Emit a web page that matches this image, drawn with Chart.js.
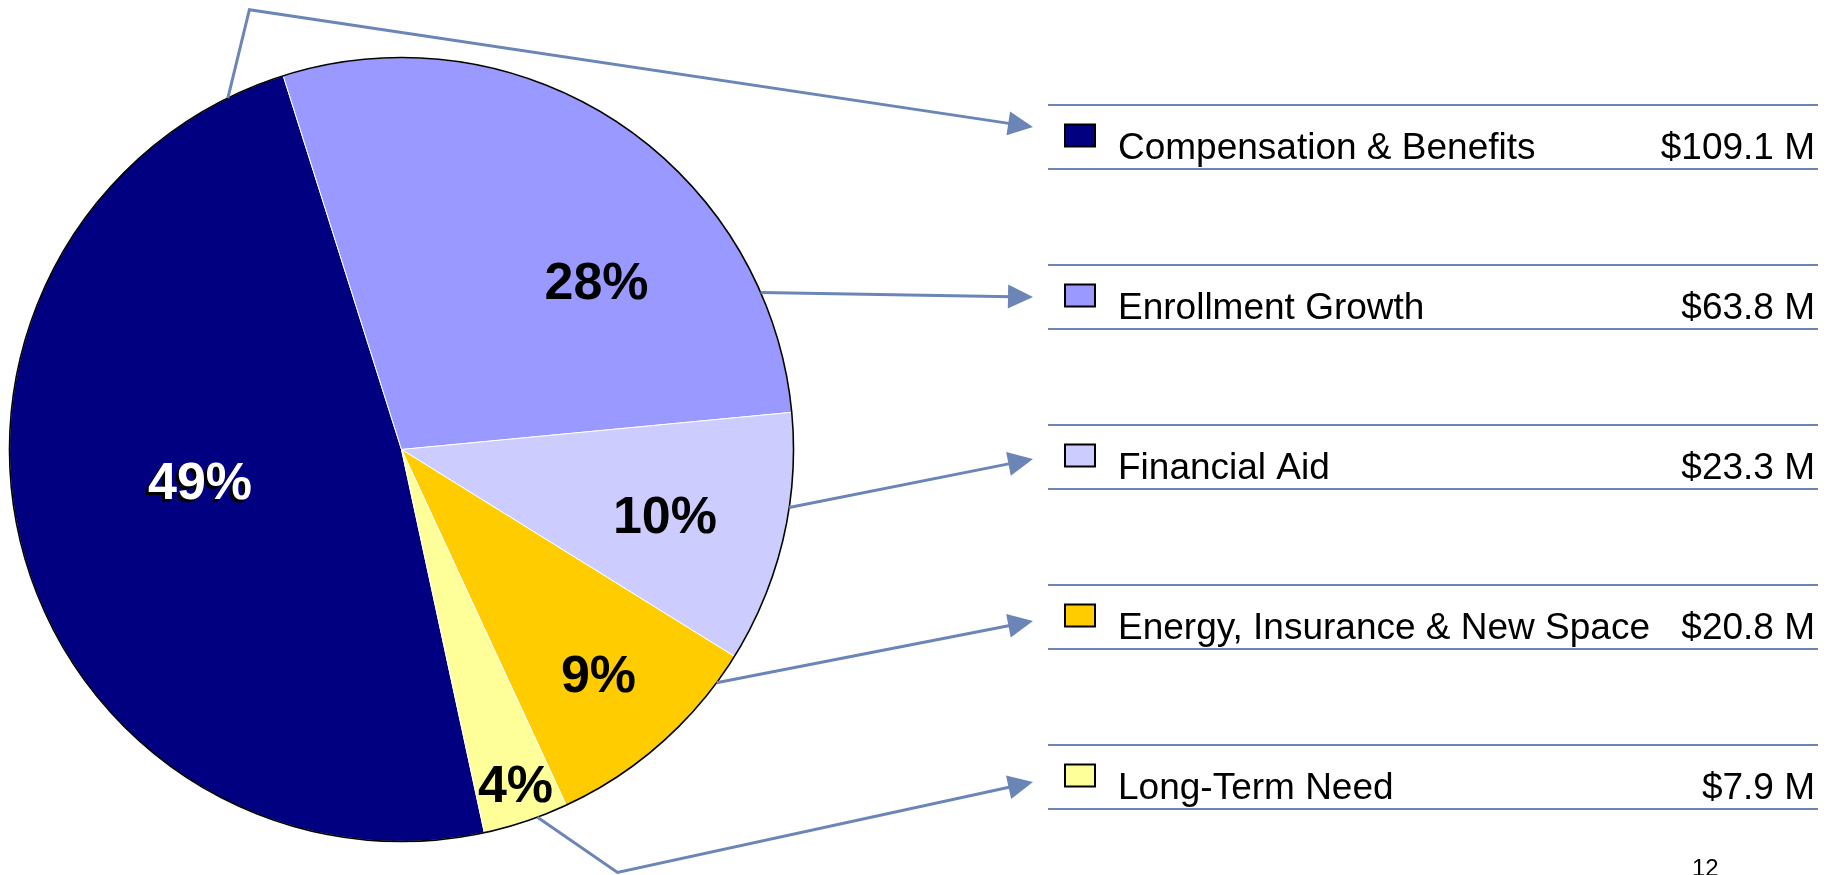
<!DOCTYPE html>
<html>
<head>
<meta charset="utf-8">
<script src="https://cdn.jsdelivr.net/npm/chart.js@4.4.1/dist/chart.umd.min.js"></script>
<style>
  html, body { margin: 0; padding: 0; background: #fff; overflow: hidden; }
  canvas { display: block; }
</style>
</head>
<body>
<canvas id="budget" width="1833" height="875"></canvas>
<script>
// data
const categories = ['Compensation & Benefits', 'Enrollment Growth', 'Financial Aid', 'Energy, Insurance & New Space', 'Long-Term Need'];
const amounts = [109.1, 63.8, 23.3, 20.8, 7.9];   // $ millions
const sliceColors = ['#000080', '#9999FF', '#CCCCFF', '#FFCC00', '#FFFF99'];
const pageNumber = '12';

// where the % labels sit: [fraction of radius, fraction along the slice]
const labelSpots = [[0.52, 0.535], [0.658, 0.653], [0.692, 0.515], [0.76, 0.503], [0.9, 0.474]];
// where each leader leaves the pie (fraction along the slice) and optional bend (in radius units from centre)
const leaderStart = [0.95, 0.822, 0.374, 0.14, 0.36];
const leaderBend = [[-0.388, -1.122], null, null, null, [0.551, 1.079]];
const arrowDy = [22, 32, 34, 36, 37];

const FONT = '"Liberation Sans", Arial, Helvetica, sans-serif';
const LINE_BLUE = '#6B86B6';

const total = amounts.reduce((a, b) => a + b, 0);

const overlay = {
    id: 'overlay',
    afterDatasetsDraw(chart) {
        const ctx = chart.ctx;
        const arcs = chart.getDatasetMeta(0).data;
        const p0 = arcs[0].getProps(['x', 'y', 'outerRadius'], true);
        const cx = p0.x, cy = p0.y, r = p0.outerRadius;

        function onArc(i, frac, rr) {
            const a = arcs[i].startAngle + frac * (arcs[i].endAngle - arcs[i].startAngle);
            return [cx + Math.cos(a) * rr, cy + Math.sin(a) * rr];
        }

        ctx.save();

        // outline of the pie
        ctx.beginPath();
        ctx.arc(cx, cy, r, 0, Math.PI * 2);
        ctx.lineWidth = 1.6;
        ctx.strokeStyle = '#000';
        ctx.stroke();

        // percent labels
        ctx.font = 'bold 52px ' + FONT;
        ctx.textAlign = 'center';
        ctx.textBaseline = 'alphabetic';
        amounts.forEach((v, i) => {
            const txt = Math.round(v / total * 100) + '%';
            const [x, y] = onArc(i, labelSpots[i][1], labelSpots[i][0] * r);
            const base = y + 52 * 0.358;
            if (i === 0) {
                ctx.fillStyle = '#000';
                ctx.fillText(txt, x - 3, base + 3);
                ctx.fillStyle = '#fff';
                ctx.fillText(txt, x, base);
            } else {
                ctx.fillStyle = '#000';
                ctx.fillText(txt, x, base);
            }
        });

        // legend rows
        const legLeft = 1048, legRight = 1818, rowTop = 105, rowGap = 160, rowH = 64;
        categories.forEach((name, i) => {
            const top = rowTop + i * rowGap;
            ctx.strokeStyle = LINE_BLUE;
            ctx.lineWidth = 2;
            ctx.beginPath();
            ctx.moveTo(legLeft, top); ctx.lineTo(legRight, top);
            ctx.moveTo(legLeft, top + rowH); ctx.lineTo(legRight, top + rowH);
            ctx.stroke();

            ctx.fillStyle = sliceColors[i];
            ctx.fillRect(1065, top + 19.5, 30, 22);
            ctx.strokeStyle = '#000';
            ctx.lineWidth = 2;
            ctx.strokeRect(1065, top + 19.5, 30, 22);

            ctx.fillStyle = '#000';
            ctx.font = '37px ' + FONT;
            ctx.textAlign = 'left';
            ctx.fillText(name, 1118, top + 54);
            ctx.textAlign = 'right';
            ctx.fillText('$' + amounts[i].toFixed(1) + ' M', 1815, top + 54);

            // leader line with arrow
            const pts = [onArc(i, leaderStart[i], r)];
            if (leaderBend[i]) pts.push([cx + leaderBend[i][0] * r, cy + leaderBend[i][1] * r]);
            const tip = [1033, top + arrowDy[i]];
            const prev = pts[pts.length - 1];
            const ang = Math.atan2(tip[1] - prev[1], tip[0] - prev[0]);
            const len = 25, half = 12;
            const base = [tip[0] - Math.cos(ang) * len, tip[1] - Math.sin(ang) * len];

            ctx.strokeStyle = LINE_BLUE;
            ctx.lineWidth = 3;
            ctx.lineJoin = 'miter';
            ctx.beginPath();
            ctx.moveTo(pts[0][0], pts[0][1]);
            pts.slice(1).forEach(p => ctx.lineTo(p[0], p[1]));
            ctx.lineTo(base[0] + Math.cos(ang) * 4, base[1] + Math.sin(ang) * 4);
            ctx.stroke();

            ctx.fillStyle = LINE_BLUE;
            ctx.beginPath();
            ctx.moveTo(tip[0], tip[1]);
            ctx.lineTo(base[0] - Math.sin(ang) * half, base[1] + Math.cos(ang) * half);
            ctx.lineTo(base[0] + Math.sin(ang) * half, base[1] - Math.cos(ang) * half);
            ctx.closePath();
            ctx.fill();
        });

        // page number
        ctx.fillStyle = '#000';
        ctx.font = '24px ' + FONT;
        ctx.textAlign = 'left';
        ctx.fillText(pageNumber, 1692, 876);

        ctx.restore();
    }
};

new Chart(document.getElementById('budget'), {
    type: 'pie',
    data: {
        labels: categories,
        datasets: [{
            data: amounts,
            backgroundColor: sliceColors,
            borderColor: '#ffffff',
            borderWidth: 1,
        }]
    },
    options: {
        responsive: false,
        devicePixelRatio: 1,
        animation: false,
        rotation: 167.8,
        layout: {
            padding: { left: 9, top: 57, right: 1039, bottom: 33 }
        },
        plugins: {
            legend: { display: false },
            tooltip: { enabled: false },
        }
    },
    plugins: [overlay]
});
</script>
</body>
</html>
